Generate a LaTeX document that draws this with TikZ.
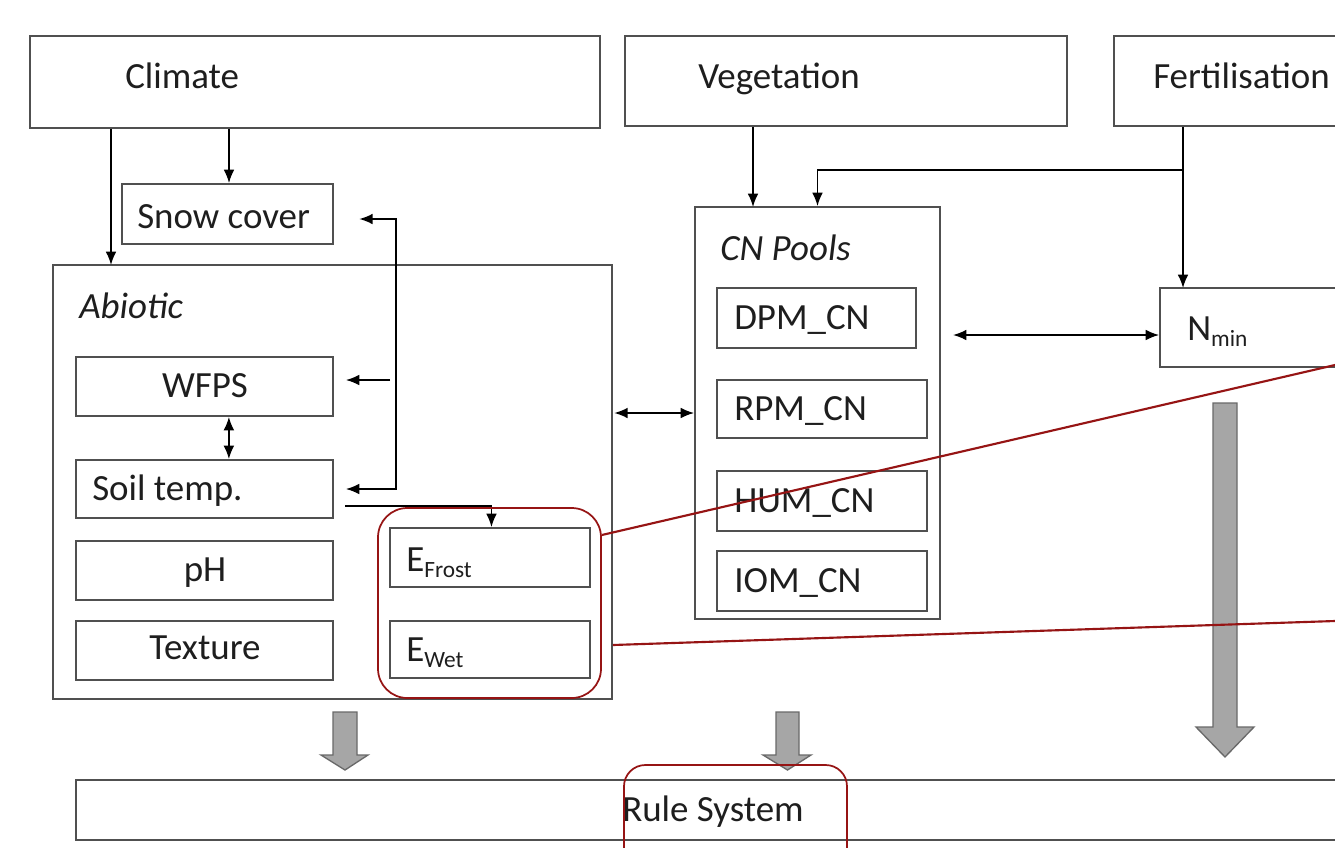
\documentclass[tikz,border=0pt]{standalone}
\usepackage{fontspec}
\setmainfont{Carlito}
\usetikzlibrary{fit,arrows.meta}
\definecolor{boxline}{RGB}{80,80,80}
\definecolor{redl}{RGB}{150,20,20}
\definecolor{grayfill}{RGB}{166,166,166}
\definecolor{grayline}{RGB}{105,105,105}
\definecolor{txtc}{RGB}{30,30,30}
\begin{document}
\begin{tikzpicture}[x=0.75pt,y=-0.75pt,
  box/.style={draw=boxline, line width=1.4pt, inner sep=0pt},
  txt/.style={inner sep=0pt, text=txtc, font=\fontsize{27.7}{33}\selectfont, anchor=base west},
  ctxt/.style={txt, anchor=base},
  arr/.style={draw=black, line width=1.2pt, -{Latex[length=10pt,width=8pt]}},
  darr/.style={draw=black, line width=1.2pt, {Latex[length=10pt,width=8pt]}-{Latex[length=10pt,width=8pt]}},
  redline/.style={draw=redl, line width=1.6pt},
  redbox/.style={draw=redl, line width=1.3pt},
  block/.style={fill=grayfill, draw=grayline, line width=1pt, line join=miter}]
\clip (0,0) rectangle (1335,847);
\fill[white] (0,0) rectangle (1335,847);

% top boxes
\node[box, fit={(30,36) (600,128)}] (climate) {};
\node[box, fit={(625,36) (1067,126)}] (veg) {};
\node[box, fit={(1114,36) (1400,126)}] (fert) {};
\node[txt] (climatet) at (125,88) {Climate};
\node[txt] (vegt) at (698,88) {Vegetation};
\node[txt] (fertt) at (1153,88) {Fertilisation};

% snow cover
\node[box, fit={(122,184) (333,244)}] (snow) {};
\node[txt] (snowt) at (137,228) {Snow cover};

% abiotic
\node[box, fit={(53,265) (612,699)}] (abiotic) {};
\node[txt, font=\fontsize{27.7}{33}\selectfont\itshape] (abiotict) at (79,318) {Abiotic};
\node[box, fit={(76,357) (333,416)}] (wfps) {};
\node[ctxt] (wfpst) at (205,397) {WFPS};
\node[box, fit={(76,460) (333,518)}] (soil) {};
\node[txt] (soilt) at (92,500) {Soil temp.};
\node[box, fit={(76,541) (333,600)}] (ph) {};
\node[ctxt] (pht) at (205,581) {pH};
\node[box, fit={(76,621) (333,680)}] (texture) {};
\node[ctxt] (texturet) at (205,659) {Texture};
\node[box, fit={(390,528) (590,587)}] (efrost) {};
\node[txt] (efrostt) at (406,571) {E\raisebox{-4.5pt}{\fontsize{17.5}{19}\selectfont Frost}};
\node[box, fit={(390,621) (590,678)}] (ewet) {};
\node[txt] (ewett) at (406,661) {E\raisebox{-4.5pt}{\fontsize{17.5}{19}\selectfont Wet}};

% CN pools
\node[box, fit={(695,207) (940,619)}] (cn) {};
\node[txt, font=\fontsize{27.7}{33}\selectfont\itshape] (cnt) at (720,260) {CN Pools};
\node[box, fit={(717,288) (916,348)}] (dpm) {};
\node[txt] (dpmt) at (734,329) {DPM\_CN};
\node[box, fit={(717,380) (927,438)}] (rpm) {};
\node[txt] (rpmt) at (734,420) {RPM\_CN};
\node[box, fit={(717,471) (927,531)}] (hum) {};
\node[txt] (humt) at (734,512) {HUM\_CN};
\node[box, fit={(717,551) (927,611)}] (iom) {};
\node[txt] (iomt) at (734,592) {IOM\_CN};

% Nmin
\node[box, fit={(1160,288) (1400,367)}] (nmin) {};
\node[txt] (nmint) at (1187,340) {N\raisebox{-4.5pt}{\fontsize{17.5}{19}\selectfont min}};

% rule system
\node[box, fit={(76,780) (1400,840)}] (rule) {};
\node[txt] (rulet) at (622,821) {Rule System};

% connectors
\coordinate (c1) at (111,265);
\draw[arr] (climate.south -| c1) -- (c1);
\draw[arr] (climate.south -| snow.north) ++(1.5,0) coordinate (c2) -- (c2 |- snow.north);
\coordinate (v1) at (396,219);
\coordinate (v2) at (396,489);
\draw[arr, shorten >=19pt] (v2) -- (v1) -- (v1 -| snow.east);
\draw[arr, shorten >=9pt] (v1) -- (v2) -- (v2 -| soil.east);
\coordinate (w0) at (390,380);
\draw[arr, shorten >=9pt] (w0) -- (w0 -| wfps.east);
\draw[darr] ([xshift=18.3pt]wfps.south) -- ([xshift=18.3pt]soil.north);
\coordinate (s1) at (345,506);
\draw[arr] (s1) -| ([xshift=1.1pt]efrost.north);
\draw[darr, shorten <=1pt] (cn.west -| abiotic.east) -- (cn.west);
\coordinate (g1) at (753,207);
\draw[arr] (veg.south -| g1) -- (g1);
\coordinate (f1) at (1183,288);
\coordinate (f2) at (1183,170);
\draw[arr] (fert.south -| f1) -- (f1);
\draw[arr] (f2) -| (cn.north);
\coordinate (d1) at (953,335);
\draw[darr] (d1) -- (d1 -| nmin.west);

% gray block arrows
\draw[block] (333,712) -- (357,712) -- (357,755) -- (368,755) -- (345,770) -- (321,755) -- (333,755) -- cycle;
\draw[block] (776,712) -- (799,712) -- (799,755) -- (811,755) -- (787.5,770) -- (763,755) -- (776,755) -- cycle;
\draw[block] (1213,403) -- (1237,403) -- (1237,727) -- (1254,727) -- (1225,757) -- (1196,727) -- (1213,727) -- cycle;

% red highlights
\node[redbox, rounded corners=22pt, inner sep=0pt, fit={(378,508) (601,698)}] (egroup) {};
\node[redbox, rounded corners=16pt, inner sep=0pt, fit={(624,765) (847,900)}] (rulegroup) {};
\coordinate (r1) at (599,535);
\coordinate (r2) at (1335,365);
\coordinate (r3) at (612,645);
\coordinate (r4) at (1335,621);
\draw[redline] (r1 -| egroup.east) -- (r2);
\draw[redline] (r3 -| abiotic.east) -- (r4);
\end{tikzpicture}
\end{document}
